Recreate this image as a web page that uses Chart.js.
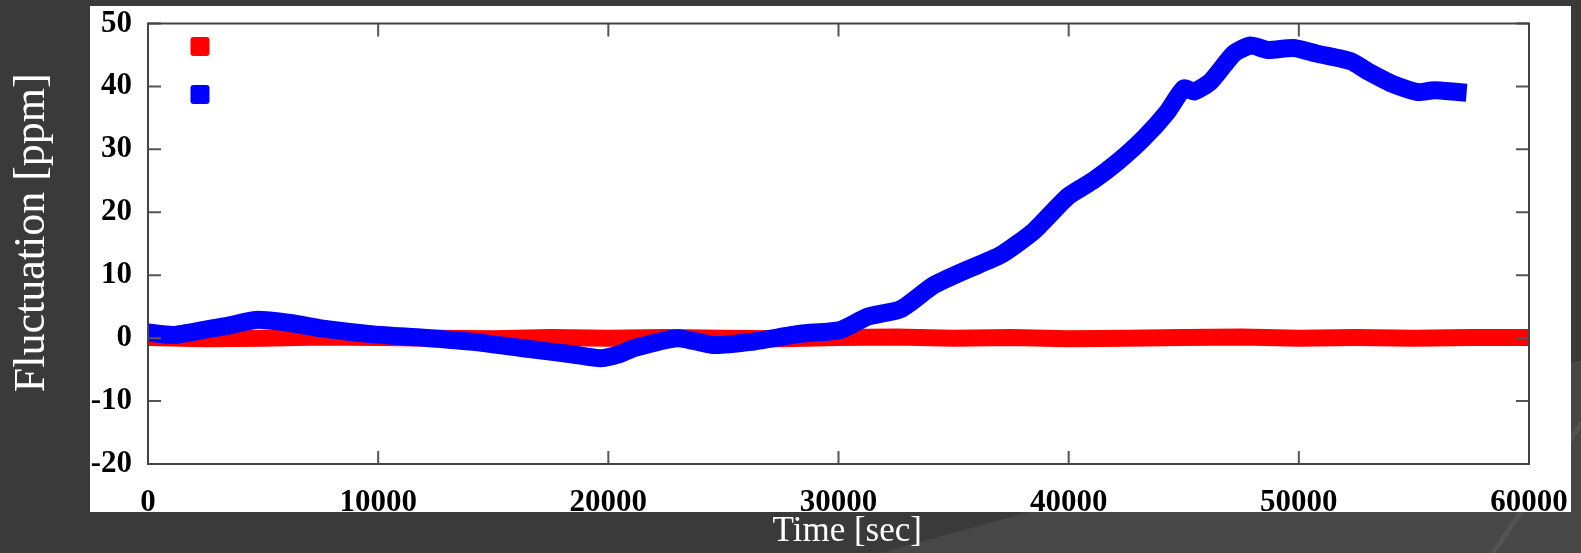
<!DOCTYPE html>
<html>
<head>
<meta charset="utf-8">
<title>Fluctuation</title>
<script src="https://cdn.jsdelivr.net/npm/chart.js@4.4.1/dist/chart.umd.min.js"></script>
<style>
  html, body { margin: 0; padding: 0; }
  body { width: 1581px; height: 553px; background: #3a3a3a; position: relative; overflow: hidden; }
  .shade { position: absolute; inset: 0; background: #474747; clip-path: polygon(880px 553px, 1581px 360px, 1581px 553px); }
  .streak { position: absolute; inset: 0; background: #545454; clip-path: polygon(1490px 553px, 1581px 420px, 1581px 428px, 1496px 553px); }
  .panel { position: absolute; left: 90px; top: 6px; width: 1481px; height: 506px; background: #fff; }
  canvas { position: absolute; left: 0; top: 0; }
</style>
</head>
<body>
<div class="shade"></div>
<div class="streak"></div>
<div class="panel"></div>
<canvas id="chart" width="1581" height="553"></canvas>
<script>
// valores (tiempo en s, fluctuacion en ppm)
const redTime = [0, 2500, 5000, 7500, 10000, 12500, 15000, 17500, 20000, 22500, 25000, 27500, 30000,
  32500, 35000, 37500, 40000, 42500, 45000, 47500, 50000, 52500, 55000, 57500, 60000];
const redValue = [0.1, -0.1, 0.0, 0.2, 0.1, 0.0, -0.1, 0.1, 0.0, 0.1, 0.0, -0.1, 0.1,
  0.2, 0.0, 0.1, -0.1, 0.0, 0.1, 0.2, 0.0, 0.1, 0.0, 0.1, 0.1];

const blueTime = [0, 1100, 2550, 3500, 4700, 6170, 7600, 9800, 11960, 14130, 16300, 18480, 19650,
  20520, 21090, 23000, 24570, 26170, 28350, 30090, 31260, 32700, 34130, 35600, 37040, 38480,
  39960, 41090, 42130, 43270, 44300, 45000, 45450, 46170, 47170, 47900, 48650, 49780, 50800,
  52260, 53000, 54130, 55170, 55870, 56900];
const blueValue = [0.9, 0.5, 1.4, 2.0, 2.9, 2.4, 1.5, 0.6, 0.05, -0.6, -1.6, -2.6, -3.2,
  -2.5, -1.6, 0.0, -1.1, -0.6, 0.7, 1.3, 3.4, 4.6, 8.4, 10.9, 13.2, 17.0,
  22.5, 25.1, 28.0, 31.8, 36.0, 39.7, 39.2, 40.8, 45.2, 46.5, 45.8, 46.1, 45.2,
  44.0, 42.4, 40.3, 39.1, 39.4, 39.1];

const xTicks = [0, 10000, 20000, 30000, 40000, 50000, 60000];
const yTicks = [-20, -10, 0, 10, 20, 30, 40, 50];

const toPoints = (xs, ys) => xs.map((x, i) => ({ x, y: ys[i] }));

const serif = "'Liberation Serif', 'Times New Roman', serif";
const tickFont = { family: serif, size: 31, weight: "bold" };

// marco con marcas hacia adentro en los cuatro lados
const frame = {
  id: "frame",
  afterDatasetsDraw(chart) {
    const { ctx, chartArea: a, scales } = chart;
    const len = 13;
    ctx.save();
    ctx.strokeStyle = "#555";
    ctx.lineWidth = 2;
    ctx.beginPath();
    xTicks.forEach((v) => {
      const px = scales.x.getPixelForValue(v);
      ctx.moveTo(px, a.bottom); ctx.lineTo(px, a.bottom - len);
      ctx.moveTo(px, a.top); ctx.lineTo(px, a.top + len);
    });
    yTicks.forEach((v) => {
      const py = scales.y.getPixelForValue(v);
      ctx.moveTo(a.left, py); ctx.lineTo(a.left + len, py);
      ctx.moveTo(a.right, py); ctx.lineTo(a.right - len, py);
    });
    ctx.stroke();
    ctx.strokeStyle = "#444";
    ctx.strokeRect(a.left, a.top, a.right - a.left, a.bottom - a.top);
    ctx.restore();
  }
};

// cuadros de la leyenda (sin texto visible)
const legendSquares = {
  id: "legendSquares",
  afterDraw(chart) {
    const { ctx, chartArea: a } = chart;
    const items = [chart.data.datasets[1], chart.data.datasets[0]];
    ctx.save();
    items.forEach((ds, i) => {
      const cx = a.left + 52, cy = a.top + 23 + i * 48, s = 19;
      ctx.fillStyle = ds.borderColor;
      ctx.beginPath();
      ctx.roundRect(cx - s / 2, cy - s / 2, s, s, 3);
      ctx.fill();
    });
    ctx.restore();
  }
};

new Chart(document.getElementById("chart"), {
  type: "line",
  data: {
    datasets: [
      {
        label: "blue",
        data: toPoints(blueTime, blueValue),
        borderColor: "#0000ff",
        borderWidth: 18,
        borderCapStyle: "square",
        borderJoinStyle: "round",
        pointRadius: 0,
        tension: 0.2,
        order: 0
      },
      {
        label: "red",
        data: toPoints(redTime, redValue),
        borderColor: "#ff0000",
        borderWidth: 17,
        borderCapStyle: "square",
        borderJoinStyle: "round",
        pointRadius: 0,
        tension: 0,
        order: 1
      }
    ]
  },
  options: {
    responsive: false,
    animation: false,
    layout: { padding: { top: 0, right: 52, left: 0, bottom: 0 } },
    plugins: { legend: { display: false }, tooltip: { enabled: false } },
    scales: {
      x: {
        type: "linear",
        min: 0,
        max: 60000,
        afterBuildTicks: (scale) => { scale.ticks = xTicks.map((value) => ({ value })); },
        afterFit: (scale) => { scale.height = 89; },
        grid: { display: false },
        border: { display: false },
        ticks: { color: "#000", font: tickFont, padding: 12, maxRotation: 0, callback: (v) => String(v) },
        title: { display: true, text: "\u2002Time [sec]", color: "#fff", font: { family: serif, size: 35 }, padding: { top: 0, bottom: 0 } }
      },
      y: {
        min: -20,
        max: 50,
        afterBuildTicks: (scale) => { scale.ticks = yTicks.map((value) => ({ value })); },
        afterFit: (scale) => { scale.width = 148; },
        grid: { display: false },
        border: { display: false },
        ticks: { color: "#000", font: { ...tickFont, lineHeight: 1.0 }, padding: 8, callback: (v) => String(v) },
        title: { display: true, text: "\u2002Fluctuation [ppm]", color: "#fff", font: { family: serif, size: 44 }, padding: { top: 6, bottom: 0 } }
      }
    }
  },
  plugins: [frame, legendSquares]
});
</script>
</body>
</html>
